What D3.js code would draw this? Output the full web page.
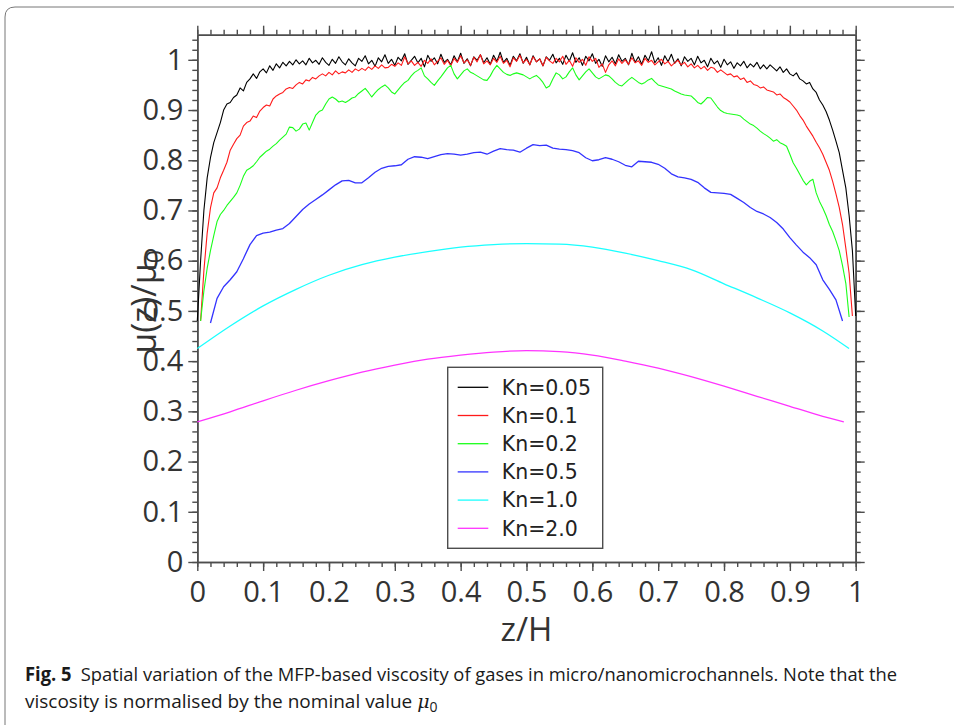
<!DOCTYPE html>
<html>
<head>
<meta charset="utf-8">
<script src="https://cdn.jsdelivr.net/npm/d3@7"></script>
<style>
  body { margin: 0; background: #fff; }
  svg { display: block; }
</style>
</head>
<body>
<svg id="chart" width="954" height="725"></svg>
<script>

// ---- data ----
var seriesNames = ["Kn=0.05", "Kn=0.1", "Kn=0.2", "Kn=0.5", "Kn=1.0", "Kn=2.0"];
var seriesColors = ["#000000", "#ff1a1a", "#1aff1a", "#3333ff", "#1affff", "#ff33ff"];

var xTicks = [0, 0.1, 0.2, 0.3, 0.4, 0.5, 0.6, 0.7, 0.8, 0.9, 1];
var yTicks = [0, 0.1, 0.2, 0.3, 0.4, 0.5, 0.6, 0.7, 0.8, 0.9, 1];

// noisy profiles sampled every 0.005 in z/H (201 values)
var kn005 = [
  0.480,0.600,0.700,0.765,0.805,0.835,0.855,0.875,0.900,0.912,
  0.915,0.925,0.930,0.944,0.938,0.955,0.962,0.972,0.963,0.976,
  0.982,0.974,0.988,0.979,0.992,0.984,0.995,0.988,0.997,0.990,
  1.000,0.992,0.998,0.990,1.003,0.994,
  0.999,0.991,1.004,0.995,0.989,1.001,0.993,1.006,0.996,0.990,
  1.002,0.994,0.988,1.003,0.997,1.008,0.992,0.999,0.987,1.004,
  0.996,1.010,0.993,1.001,0.989,1.005,0.998,1.012,0.991,0.999,
  1.007,0.994,1.003,0.986,1.009,0.997,1.004,0.992,1.011,0.995,
  1.001,0.990,1.008,0.996,1.013,0.993,1.002,0.988,1.006,0.999,
  1.010,0.994,1.004,0.991,1.009,0.997,1.015,0.995,1.003,0.989,
  1.007,0.998,1.012,0.993,1.005,0.990,1.008,0.996,1.002,0.988,
  1.006,0.999,1.011,0.994,1.003,0.991,1.009,0.997,1.014,0.995,
  1.004,0.989,1.007,0.998,1.012,0.993,1.001,0.987,1.008,0.996,
  1.005,0.992,1.010,0.997,1.003,0.990,1.013,0.995,1.006,0.991,
  1.009,0.998,1.016,0.994,1.004,0.989,1.008,0.996,1.011,0.993,
  1.002,0.988,1.006,0.997,1.003,0.990,1.007,0.994,0.999,0.986,
  1.003,0.992,0.998,0.985,1.001,0.990,0.996,0.983,0.994,0.988,
  0.997,0.984,0.992,0.986,0.995,0.982,
  0.990,0.982,0.990,0.984,0.978,0.986,0.975,0.982,0.972,0.968,
  0.974,0.962,0.958,0.952,0.955,0.942,0.935,0.920,0.910,0.897,
  0.880,0.860,0.838,0.815,0.780,0.745,0.690,0.620,0.490
];

var kn01 = [
  null,
  0.480,0.580,0.655,0.705,0.735,0.745,0.765,0.780,0.796,
  0.820,0.832,0.843,0.850,0.868,0.875,0.878,0.888,0.885,0.898,
  0.905,0.910,0.908,0.922,0.928,0.932,0.935,0.942,0.945,0.943,
  0.950,0.955,0.952,0.960,0.958,0.965,0.962,0.968,0.972,0.968,
  0.975,0.970,0.978,0.972,0.976,0.974,0.980,0.975,0.982,0.978,
  0.983,0.979,0.986,0.981,0.988,0.983,0.990,0.984,0.985,0.991,
  0.987,0.994,0.989,1.006,0.992,0.998,0.989,0.995,0.987,0.999,
  0.993,1.002,0.990,0.997,1.004,0.991,0.999,0.988,1.003,0.995,
  1.008,0.994,1.000,0.989,1.005,0.996,1.010,0.992,0.998,0.990,
  1.003,0.995,1.007,0.993,0.999,0.986,1.004,0.997,1.009,0.994,
  1.001,0.990,1.006,0.996,1.002,0.988,1.005,0.998,0.993,1.003,
  0.996,1.007,0.991,0.999,0.987,1.004,0.995,1.001,0.989,1.006,
  0.997,1.003,0.985,0.992,0.975,0.990,0.998,0.988,1.002,0.993,
  1.000,0.991,1.004,0.994,0.998,0.989,1.003,0.995,0.999,0.990,
  0.996,1.001,0.992,0.997,0.988,0.994,0.999,0.990,0.995,0.986,
  0.992,0.984,0.989,0.982,0.987,0.979,0.985,0.983,0.975,0.980,
  0.975,0.970,0.972,0.966,0.968,0.961,0.964,0.955,0.958,0.951,
  0.949,0.944,0.946,0.940,0.938,0.936,0.930,0.932,0.925,0.921,
  0.916,0.908,0.900,0.889,0.880,0.868,0.858,0.848,0.836,0.825,
  0.812,0.796,0.780,0.758,0.733,0.706,0.672,0.625,0.575,0.490,
  null
];

var kn02 = [
  null,
  0.480,0.540,0.585,0.620,0.650,0.678,0.692,0.700,0.710,
  0.718,0.726,0.735,0.750,0.768,0.780,0.784,0.789,0.797,0.806,
  0.812,0.818,0.822,0.828,0.833,0.840,0.846,0.852,0.866,0.865,
  0.858,0.862,0.872,0.874,0.860,0.875,0.890,0.897,0.900,0.912,
  0.922,0.926,0.922,0.916,0.918,0.915,0.919,0.924,0.926,0.933,
  0.938,0.943,0.935,0.926,0.934,0.941,0.946,0.950,0.944,0.936,
  0.932,0.940,0.948,0.955,0.959,0.968,0.975,0.979,0.984,0.968,
  0.962,0.955,0.949,0.958,0.966,0.975,0.984,0.989,0.972,0.962,
  0.970,0.978,0.982,0.975,0.972,0.968,0.964,0.960,0.959,0.968,
  0.980,0.989,0.982,0.975,0.971,0.969,0.972,0.974,0.972,0.970,
  0.966,0.962,0.966,0.969,0.963,0.955,0.944,0.948,0.962,0.974,
  0.970,0.962,0.966,0.976,0.984,0.970,0.960,0.968,0.976,0.982,
  0.974,0.966,0.962,0.966,0.970,0.968,0.962,0.955,0.950,0.948,
  0.954,0.960,0.965,0.960,0.955,0.952,0.955,0.960,0.963,0.956,
  0.950,0.948,0.946,0.944,0.942,0.938,0.935,0.932,0.930,0.929,
  0.928,0.922,0.915,0.912,0.918,0.925,0.924,0.915,0.906,0.899,
  0.895,0.893,0.892,0.891,0.890,0.888,0.882,0.877,0.872,0.869,
  0.864,0.858,0.853,0.849,0.844,0.838,0.841,0.835,0.832,0.828,
  0.812,0.795,0.784,0.772,0.760,0.751,0.758,0.762,0.735,0.718,
  0.705,0.690,0.672,0.658,0.640,0.620,0.590,0.555,0.488,null,
  null
];

// smoother profile sampled every 0.01 (101 values)
var kn05 = [
  null,null,0.476,0.525,0.548,0.562,0.578,0.604,0.632,0.650,
  0.655,0.657,0.661,0.664,0.674,0.688,0.702,0.713,0.722,0.731,
  0.741,0.751,0.759,0.760,0.755,0.755,0.765,0.776,0.784,0.788,
  0.789,0.791,0.802,0.807,0.806,0.803,0.807,0.811,0.813,0.812,
  0.810,0.812,0.815,0.816,0.812,0.818,0.823,0.821,0.820,0.816,
  0.824,0.831,0.829,0.830,0.824,0.822,0.821,0.819,0.815,0.805,
  0.799,0.801,0.805,0.802,0.797,0.790,0.787,0.798,0.797,0.796,
  0.792,0.784,0.773,0.767,0.765,0.762,0.756,0.745,0.736,0.735,
  0.734,0.732,0.724,0.716,0.706,0.698,0.693,0.686,0.676,0.663,
  0.646,0.631,0.617,0.606,0.592,0.562,0.543,0.522,0.480,null,
  null
];

// smooth profiles sampled every 0.05, last point at the wall end
var smoothZ = [0,0.05,0.1,0.15,0.2,0.25,0.3,0.35,0.4,0.45,0.5,
               0.55,0.6,0.65,0.7,0.75,0.8,0.85,0.9,0.95,0.99];
var kn10 = [0.425,0.470,0.510,0.543,0.571,0.592,0.607,0.618,0.627,0.632,0.634,
            0.633,0.627,0.615,0.600,0.582,0.554,0.526,0.496,0.460,0.425];
var magZ = [0,0.05,0.1,0.15,0.2,0.25,0.3,0.35,0.4,0.45,0.5,
            0.55,0.6,0.65,0.7,0.75,0.8,0.85,0.9,0.95,0.982];
var kn20 = [0.279,0.299,0.321,0.342,0.361,0.378,0.392,0.404,0.412,0.418,0.421,
            0.419,0.412,0.400,0.386,0.369,0.350,0.330,0.310,0.290,0.279];

function pairUp(zs, vs) {
  return vs.map(function(v, i) { return [zs[i], v]; });
}
var grid005 = d3.range(201).map(function(i) { return i / 200; });
var grid01 = d3.range(101).map(function(i) { return i / 100; });

var allSeries = [
  pairUp(grid005, kn005),
  pairUp(grid005, kn01),
  pairUp(grid005, kn02),
  pairUp(grid01, kn05),
  pairUp(smoothZ, kn10),
  pairUp(magZ, kn20)
];

// ---- layout ----
var plot_left = 197.3, plot_right = 855.7;
var plot_top = 34.7, plot_bottom = 562;
var axis_color = "#4d4d4d";
var text_color = "#333";

var svg = d3.select("#chart");

// figure frame (rounded corner, runs off the page)
svg.append("path")
  .attr("d", "M5,740 L5,17 Q5,7 15,7 L970,7")
  .attr("fill", "none")
  .attr("stroke", "#777")
  .attr("stroke-width", 1);

var x = d3.scaleLinear().domain([0, 1]).range([plot_left, plot_right]);
var y = d3.scaleLinear().domain([0, 1.05]).range([plot_bottom, plot_top]);

var minorX = d3.range(51).map(function(i) { return i / 50; });
var minorY = d3.range(53).map(function(i) { return i / 50; });
var fmt = d3.format("~g");

function styleAxis(g) {
  g.select(".domain").attr("stroke", axis_color).attr("stroke-width", 1.6);
  g.selectAll(".tick line").attr("stroke", axis_color).attr("stroke-width", 1.4);
  g.selectAll(".tick text")
    .attr("fill", text_color)
    .style("font-family", "'Open Sans', 'Noto Sans', sans-serif")
    .style("font-size", "29px");
}

// bottom axis
svg.append("g")
  .attr("transform", "translate(0," + plot_bottom + ")")
  .call(d3.axisBottom(x).tickValues(minorX).tickSize(5).tickFormat("").tickSizeOuter(0))
  .call(styleAxis);
svg.append("g")
  .attr("transform", "translate(0," + plot_bottom + ")")
  .call(d3.axisBottom(x).tickValues(xTicks).tickSize(9).tickPadding(10).tickFormat(fmt).tickSizeOuter(0))
  .call(styleAxis);

// top axis (no labels)
svg.append("g")
  .attr("transform", "translate(0," + plot_top + ")")
  .call(d3.axisTop(x).tickValues(minorX).tickSize(5).tickFormat("").tickSizeOuter(0))
  .call(styleAxis);
svg.append("g")
  .attr("transform", "translate(0," + plot_top + ")")
  .call(d3.axisTop(x).tickValues(xTicks).tickSize(9).tickFormat("").tickSizeOuter(0))
  .call(styleAxis);

// left axis
svg.append("g")
  .attr("transform", "translate(" + plot_left + ",0)")
  .call(d3.axisLeft(y).tickValues(minorY).tickSize(5).tickFormat("").tickSizeOuter(0))
  .call(styleAxis);
svg.append("g")
  .attr("transform", "translate(" + plot_left + ",0)")
  .call(d3.axisLeft(y).tickValues(yTicks).tickSize(9).tickPadding(5).tickFormat(fmt).tickSizeOuter(0))
  .call(styleAxis);

// right axis (no labels)
svg.append("g")
  .attr("transform", "translate(" + plot_right + ",0)")
  .call(d3.axisRight(y).tickValues(minorY).tickSize(5).tickFormat("").tickSizeOuter(0))
  .call(styleAxis);
svg.append("g")
  .attr("transform", "translate(" + plot_right + ",0)")
  .call(d3.axisRight(y).tickValues(yTicks).tickSize(9).tickFormat("").tickSizeOuter(0))
  .call(styleAxis);

// curves
var line = d3.line()
  .defined(function(d) { return d[1] !== null; })
  .x(function(d) { return x(d[0]); })
  .y(function(d) { return y(d[1]); });

var smoothLine = d3.line()
  .curve(d3.curveMonotoneX)
  .x(function(d) { return x(d[0]); })
  .y(function(d) { return y(d[1]); });

svg.append("g")
  .selectAll("path")
  .data(allSeries)
  .enter()
    .append("path")
    .attr("fill", "none")
    .attr("stroke", function(d, i) { return seriesColors[i]; })
    .attr("stroke-width", function(d, i) { return i < 3 ? 1.1 : 1.3; })
    .attr("stroke-linejoin", "round")
    .attr("d", function(d, i) { return i < 4 ? line(d) : smoothLine(d); });

// legend
var legend = svg.append("g").attr("transform", "translate(447.7,367.3)");
legend.append("rect")
  .attr("width", 155)
  .attr("height", 181)
  .attr("fill", "#fff")
  .attr("stroke", axis_color)
  .attr("stroke-width", 1.4);

var rows = legend.selectAll("g.row")
  .data(seriesNames)
  .enter()
    .append("g")
    .attr("class", "row")
    .attr("transform", function(d, i) { return "translate(0," + (20 + i * 28.2) + ")"; });
rows.append("line")
  .attr("x1", 10).attr("x2", 40.6)
  .attr("stroke", function(d, i) { return seriesColors[i]; })
  .attr("stroke-width", 1.3);
rows.append("text")
  .attr("x", 54)
  .attr("dy", "0.36em")
  .attr("fill", "#222")
  .style("font-family", "'DejaVu Sans', sans-serif")
  .style("font-size", "20.5px")
  .text(function(d) { return d; });

// axis titles
svg.append("text")
  .attr("x", (plot_left + plot_right) / 2)
  .attr("y", 641)
  .attr("text-anchor", "middle")
  .attr("fill", text_color)
  .style("font-family", "'Open Sans', 'Noto Sans', sans-serif")
  .style("font-size", "33px")
  .text("z/H");

var ytitle = svg.append("text")
  .attr("transform", "translate(156,302) rotate(-90)")
  .attr("text-anchor", "middle")
  .attr("fill", text_color)
  .style("font-family", "'Open Sans', 'Noto Sans', sans-serif")
  .style("font-size", "34px");
ytitle.append("tspan").text("μ(z)/μ");
ytitle.append("tspan").attr("dy", 7).style("font-size", "23px").text("0");

// caption
var cap_font = "'Liberation Sans Narrow', 'Open Sans', sans-serif";
var cap1 = svg.append("text")
  .attr("x", 25).attr("y", 681)
  .attr("textLength", 872)
  .attr("lengthAdjust", "spacingAndGlyphs")
  .attr("fill", "#1a1a1a")
  .style("font-family", cap_font)
  .style("font-size", "19px");
cap1.append("tspan").style("font-weight", "bold").text("Fig. 5");
cap1.append("tspan").text("\u2002Spatial variation of the MFP-based viscosity of gases in micro/nanomicrochannels. Note that the");

var cap2 = svg.append("text")
  .attr("x", 25).attr("y", 708)
  .attr("fill", "#1a1a1a")
  .style("font-family", cap_font)
  .style("font-size", "19px");
cap2.append("tspan").text("viscosity is normalised by the nominal value ");
cap2.append("tspan").style("font-family", "'DejaVu Serif', serif").style("font-style", "italic").text("μ");
cap2.append("tspan").attr("dy", 4).style("font-size", "14px").text("0");

</script>
</body>
</html>
